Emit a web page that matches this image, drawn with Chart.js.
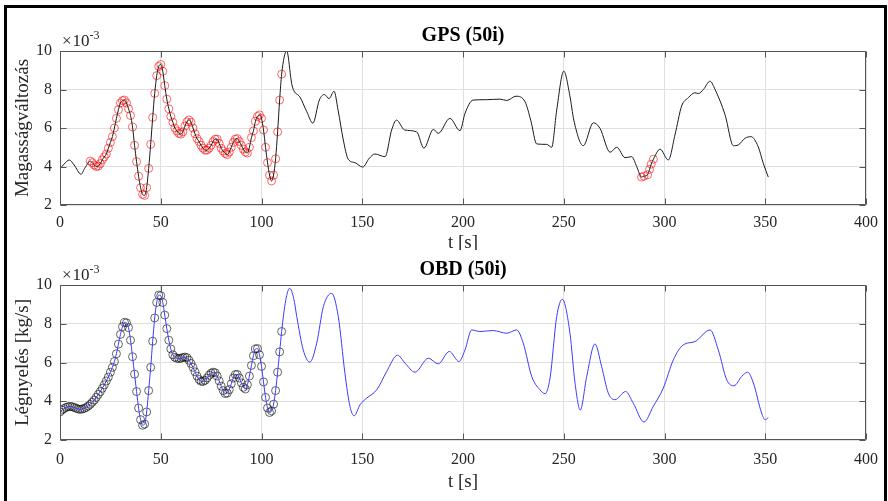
<!DOCTYPE html>
<html>
<head>
<meta charset="utf-8">
<script src="https://cdn.jsdelivr.net/npm/chart.js@4.4.1/dist/chart.umd.min.js"></script>
<style>
  html, body { margin: 0; padding: 0; background: #fff; }
  #wrap { position: relative; width: 888px; height: 501px; overflow: hidden; }
  canvas { position: absolute; left: 0; }
  #gpsChart { top: 0; }
  #obdChart { top: 250px; }
  #frame {
    position: absolute; left: 4px; top: 5px; width: 883px; height: 520px;
    border: 3px solid #000; box-sizing: border-box; pointer-events: none;
  }
</style>
</head>
<body>
<div id="wrap">
  <canvas id="gpsChart" width="888" height="250"></canvas>
  <canvas id="obdChart" width="888" height="251"></canvas>
  <div id="frame"></div>
</div>
<script>
// 값 단위: x10^-3
// GPS (50i) - 검은 선 (표시 구간 제외한 부분)
const gpsLineT = [
  0, 2, 4.6, 7, 10.4, 12.5,
  112.5, 115, 116, 119, 122.5, 125.5, 128.7, 131.2, 133.5, 136,
  138, 140.6, 143, 146.4, 150.2, 153.5, 156.3, 161.3, 164.6, 167,
  171, 177, 180.6, 185.3, 187.7, 193.5, 198.5, 201, 205, 211.7,
  218.4, 221.7, 226.3, 230.8, 233.6, 236.6, 241.5, 244, 246.5, 250,
  253, 255, 259.7, 264.7, 268, 273, 276.3, 280.4, 283.7, 286.2,
  297.8, 301.9, 305.2, 308.5, 311.8, 315.1, 316.8, 319.3, 322.6, 325.1,
  330.1, 334.2, 336.6, 340, 342.9, 346.5, 349, 351.5,
];
const gpsLineV = [
  3.88, 4.12, 4.34, 4.08, 3.6, 3.95,
  10.0, 8.3, 7.95, 7.62, 6.84, 6.25, 7.45, 7.74, 7.53, 7.91,
  6.93, 5.38, 4.38, 4.2, 3.97, 4.43, 4.65, 4.51, 5.9, 6.41,
  5.9, 5.8, 4.95, 5.93, 5.72, 6.5, 5.86, 6.76, 7.45, 7.47,
  7.5, 7.43, 7.65, 7.36, 6.41, 5.17, 5.15, 5.0, 6.93, 8.95,
  7.7, 6.41, 5.08, 6.27, 5.98, 4.74, 5.0, 4.46, 4.51, 4.0,
  4.9, 4.34, 5.64, 7.14, 7.57, 7.83, 7.79, 8.0, 8.43, 8.0,
  6.67, 5.08, 5.12, 5.47, 5.55, 5.03, 4.17, 3.45,
];
// GPS 표시점 (1초 간격, 15s ~ 110s)
const gpsMarkStart = 15;
const gpsMarkV = [
  4.28, 4.2, 4.08, 4.0, 4.02, 4.15, 4.35, 4.5, 4.65, 4.95,
  5.25, 5.55, 6.0, 6.5, 6.95, 7.3, 7.42, 7.45, 7.3, 7.0,
  6.65, 6.05, 5.1, 4.25, 3.5, 2.9, 2.55, 2.5, 2.9, 3.9,
  5.15, 6.55, 7.8, 8.72, 9.2, 9.3, 8.95, 8.2, 7.5, 7.0,
  6.6, 6.3, 6.0, 5.85, 5.72, 5.68, 5.8, 6.1, 6.32, 6.42,
  6.3, 6.0, 5.7, 5.45, 5.3, 5.1, 4.95, 4.85, 4.85, 4.95,
  5.1, 5.3, 5.42, 5.42, 5.2, 4.95, 4.8, 4.68, 4.62, 4.75,
  5.0, 5.25, 5.42, 5.45, 5.3, 5.1, 4.9, 4.75, 4.7, 5.0,
  5.5, 5.85, 6.35, 6.6, 6.68, 6.5, 5.9, 5.0, 4.2, 3.55,
  3.25, 3.55, 4.4, 5.8, 7.45, 8.8,
];
// GPS 표시점 (288s ~ 295s)
const gpsMark2T = [288.6, 289.8, 291.6, 292.6, 293.4, 294.5];
const gpsMark2V = [3.45, 3.5, 3.57, 3.85, 4.12, 4.38];

// OBD (50i) - 파란 선 (표시 구간 이후)
const obdLineT = [
  112, 114, 116, 117.5, 120.7, 124, 127.4, 130.7, 134.8, 138.1,
  141.4, 143.9, 146, 148.9, 152.2, 157.2, 162.1, 167.5, 171.2, 176.2,
  182.8, 187.7, 193.2, 198, 201, 204.3, 208.4, 215, 221.7, 226.6,
  229.9, 234.1, 238.2, 240.7, 243.2, 246.5, 249.3, 253.1, 255.6, 258.2,
  261.4, 265.5, 268.8, 272.1, 275.4, 280.7, 284.5, 289.8, 294.4, 299.4,
  304.4, 309.3, 315.1, 322.6, 326.7, 330.9, 334.5, 338.3, 341.3, 344.1,
  348.2, 349.9, 351.5,
];
const obdLineV = [
  9.2, 9.83, 9.3, 8.37, 6.65, 6.02, 7.0, 8.88, 9.57, 8.37,
  5.45, 3.73, 3.25, 3.82, 4.16, 4.59, 5.53, 6.38, 5.97, 5.5,
  6.22, 5.93, 6.57, 6.05, 6.65, 7.68, 7.6, 7.65, 7.51, 7.68,
  7.0, 5.28, 4.59, 4.39, 5.2, 8.37, 9.26, 7.5, 4.94, 3.55,
  5.28, 6.96, 5.79, 4.42, 4.08, 4.5, 3.9, 2.93, 3.73, 4.68,
  6.14, 6.91, 7.08, 7.68, 6.65, 5.1, 4.8, 5.28, 5.5, 4.94,
  3.39, 3.05, 3.15,
];
// OBD 표시점 (1초 간격, 0s ~ 110s)
const obdMarkStart = 0;
const obdMarkV = [
  3.45, 3.55, 3.62, 3.68, 3.72, 3.73, 3.72, 3.68, 3.64, 3.6,
  3.58, 3.6, 3.63, 3.68, 3.75, 3.84, 3.95, 4.06, 4.2, 4.35,
  4.5, 4.67, 4.85, 5.05, 5.25, 5.5, 5.75, 6.05, 6.45, 6.95,
  7.45, 7.85, 8.07, 8.05, 7.8, 7.15, 6.3, 5.4, 4.5, 3.65,
  3.05, 2.76, 2.82, 3.45, 4.55, 5.75, 7.1, 8.3, 9.1, 9.48,
  9.45, 9.1, 8.45, 7.75, 7.15, 6.7, 6.4, 6.27, 6.22, 6.2,
  6.22, 6.26, 6.28, 6.25, 6.12, 5.95, 5.75, 5.52, 5.3, 5.12,
  5.03, 5.02, 5.08, 5.2, 5.34, 5.45, 5.5, 5.47, 5.3, 5.05,
  4.78, 4.55, 4.4, 4.42, 4.6, 4.9, 5.2, 5.38, 5.38, 5.2,
  4.95, 4.72, 4.63, 4.85, 5.3, 5.85, 6.35, 6.7, 6.72, 6.4,
  5.8, 5.0, 4.2, 3.65, 3.42, 3.5, 3.85, 4.55, 5.5, 6.55,
  7.6,
];

const xMin = 0, xMax = 400, xStep = 50;
const yMin = 2, yMax = 10, yStep = 2;

const serif = '"Liberation Serif", "DejaVu Serif", serif';
const textColor = '#262626';
const gridColor = '#dfdfdf';

function toPoints(ts, vs) {
  return ts.map((t, i) => ({ x: t, y: vs[i] }));
}
function sampled(start, vs) {
  // 1초 간격 샘플
  return vs.map((v, i) => ({ x: start + i, y: v }));
}
function mergeLine(...parts) {
  return parts.flat().sort((a, b) => a.x - b.x);
}

// MATLAB 스타일 박스, 안쪽 눈금, 제목
const matlabAxes = {
  id: 'matlabAxes',
  afterDraw(chart, args, opts) {
    const { ctx, chartArea: a, scales } = chart;
    const L = Math.round(a.left) + 0.5, R = Math.round(a.right) - 0.5;
    const T = Math.round(a.top) + 0.5, B = Math.round(a.bottom) - 0.5;
    ctx.save();
    ctx.strokeStyle = '#555';
    ctx.lineWidth = 1;
    ctx.beginPath();
    ctx.rect(L, T, R - L, B - T);
    scales.x.ticks.forEach((t) => {
      const px = Math.round(scales.x.getPixelForValue(t.value)) + 0.5;
      ctx.moveTo(px, B); ctx.lineTo(px, B - 6);
      ctx.moveTo(px, T); ctx.lineTo(px, T + 6);
    });
    scales.y.ticks.forEach((t) => {
      const py = Math.round(scales.y.getPixelForValue(t.value)) + 0.5;
      ctx.moveTo(L, py); ctx.lineTo(L + 6, py);
      ctx.moveTo(R, py); ctx.lineTo(R - 6, py);
    });
    ctx.stroke();

    const cx = (a.left + a.right) / 2;
    ctx.fillStyle = '#000';
    ctx.textAlign = 'center';
    ctx.textBaseline = 'middle';
    ctx.font = 'bold 20px ' + serif;
    ctx.fillText(opts.title, cx, a.top - 15);

    ctx.fillStyle = textColor;
    ctx.font = '19px ' + serif;
    ctx.fillText('t [s]', cx, a.bottom + opts.xTitleGap);

    ctx.save();
    ctx.translate(23, (a.top + a.bottom) / 2);
    ctx.rotate(-Math.PI / 2);
    ctx.fillText(opts.yTitle, 0, 0);
    ctx.restore();

    ctx.textAlign = 'left';
    ctx.textBaseline = 'alphabetic';
    ctx.font = '17px ' + serif;
    ctx.fillText('\u00d7', a.left + 2, a.top - 5);
    const wx = ctx.measureText('\u00d7').width;
    ctx.fillText('10', a.left + 3 + wx, a.top - 5);
    const w = wx + 1 + ctx.measureText('10').width;
    ctx.font = '12px ' + serif;
    ctx.fillText('-3', a.left + 2 + w, a.top - 12);
    ctx.restore();
  },
};

function generateConfig({ line, marks, lineColor, markColor, title, yTitle, padTop, xHeight, tickPad, xTitleGap }) {
  const datasets = [
    {
      data: line,
      showLine: true,
      borderColor: lineColor,
      borderWidth: 1,
      pointRadius: 0,
      cubicInterpolationMode: 'monotone',
    },
  ];
  marks.forEach((m) => {
    datasets.push({
      data: m,
      showLine: false,
      pointRadius: 4,
      pointBorderWidth: 0.8,
      borderColor: markColor,
      backgroundColor: 'rgba(0,0,0,0)',
    });
  });

  return {
    type: 'scatter',
    data: { datasets },
    options: {
      responsive: false,
      animation: false,
      layout: { padding: { top: padTop, right: 22, left: 0, bottom: 0 } },
      plugins: {
        legend: { display: false },
        tooltip: { enabled: false },
        matlabAxes: { title, yTitle, xTitleGap },
      },
      scales: {
        x: {
          type: 'linear',
          min: xMin,
          max: xMax,
          afterFit(s) { s.height = xHeight; },
          grid: { color: gridColor, drawTicks: false },
          border: { display: false },
          ticks: { stepSize: xStep, padding: tickPad, color: textColor, font: { family: serif, size: 16 } },
        },
        y: {
          min: yMin,
          max: yMax,
          afterFit(s) { s.width = 60; },
          grid: { color: gridColor, drawTicks: false },
          border: { display: false },
          ticks: { stepSize: yStep, padding: 8, color: textColor, font: { family: serif, size: 16 } },
        },
      },
    },
    plugins: [matlabAxes],
  };
}

const gpsMarks = sampled(gpsMarkStart, gpsMarkV);
const gpsMarks2 = toPoints(gpsMark2T, gpsMark2V);
new Chart(document.getElementById('gpsChart').getContext('2d'), generateConfig({
  line: mergeLine(toPoints(gpsLineT, gpsLineV), gpsMarks, gpsMarks2),
  marks: [gpsMarks, gpsMarks2],
  lineColor: '#1a1a1a',
  markColor: 'rgba(255,0,0,0.75)',
  title: 'GPS (50i)',
  yTitle: 'Magasságváltozás',
  padTop: 51,
  xHeight: 45,
  tickPad: 8,
  xTitleGap: 38,
}));

const obdMarks = sampled(obdMarkStart, obdMarkV);
new Chart(document.getElementById('obdChart').getContext('2d'), generateConfig({
  line: mergeLine(obdMarks, toPoints(obdLineT, obdLineV)),
  marks: [obdMarks],
  lineColor: '#3b3bff',
  markColor: 'rgba(0,0,0,0.75)',
  title: 'OBD (50i)',
  yTitle: 'Légnyelés [kg/s]',
  padTop: 35,
  xHeight: 61,
  tickPad: 10,
  xTitleGap: 42,
}));
</script>
</body>
</html>
